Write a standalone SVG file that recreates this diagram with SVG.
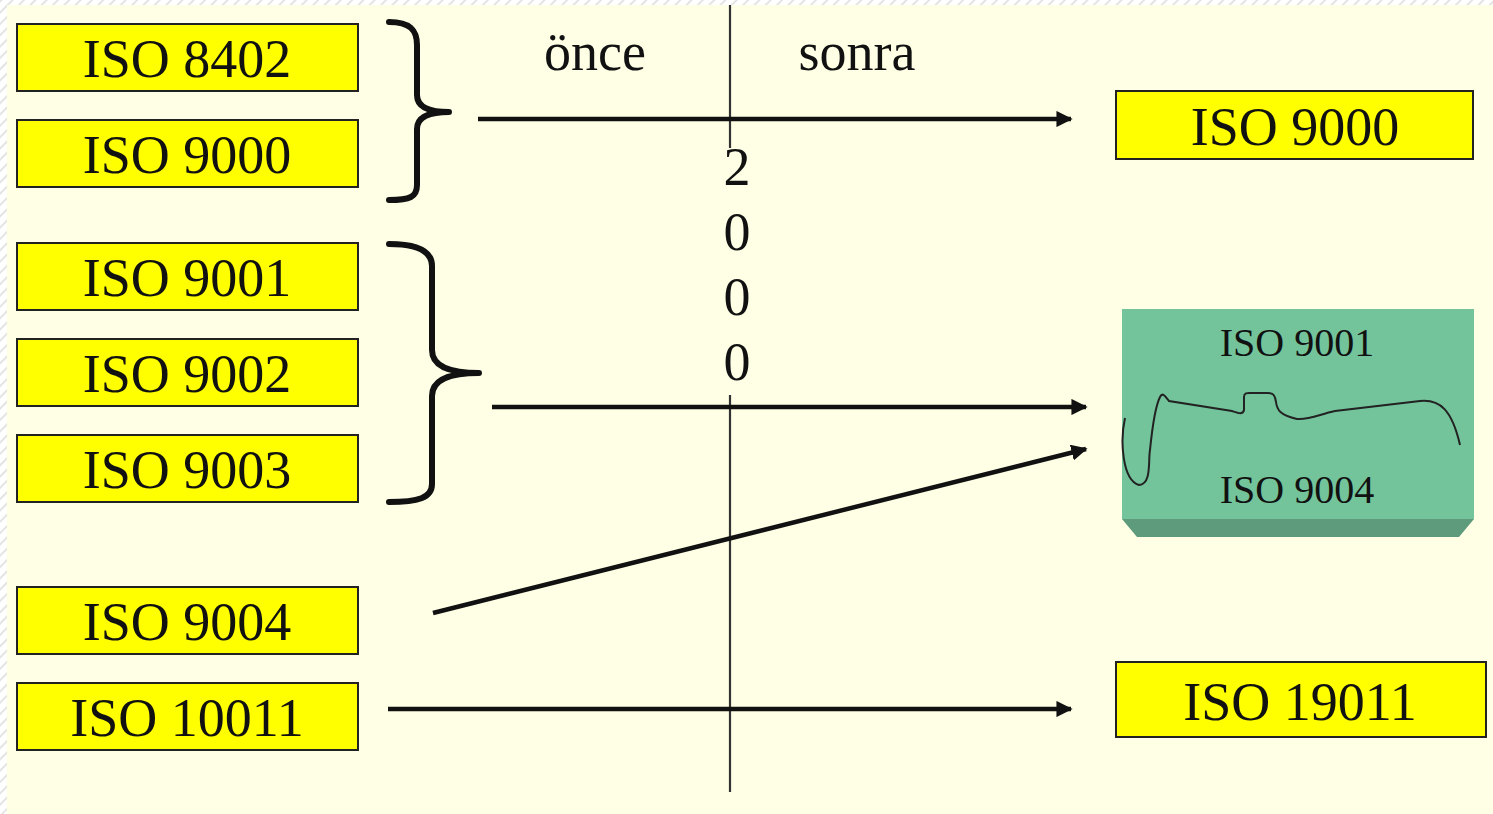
<svg xmlns="http://www.w3.org/2000/svg" width="1493" height="814" viewBox="0 0 1493 814">
  <style>
    .box { fill: #FFFF00; stroke: #222; stroke-width: 2; }
    .lbl { font-family: "Liberation Serif", "Times New Roman", serif; font-size: 54px; fill: #111; text-anchor: middle; }
    .small { font-size: 40px; }
    .conn { stroke: #111; stroke-width: 4.5; fill: none; }
    .axis { stroke: #333; stroke-width: 2.2; fill: none; }
    .brace { stroke: #111; stroke-width: 6; fill: none; stroke-linecap: round; stroke-linejoin: round; }
  </style>
  <defs>
    <pattern id="hatch" width="8" height="8" patternUnits="userSpaceOnUse" patternTransform="rotate(45)">
      <rect width="8" height="8" fill="#ffffff"/>
      <rect width="2" height="8" fill="#e4e4e4"/>
    </pattern>
    <marker id="arrow" viewBox="0 0 10 10" refX="9" refY="5" markerWidth="3.6" markerHeight="3.6" orient="auto" markerUnits="strokeWidth">
      <path d="M0,0 L10,5 L0,10 Z" fill="#111"/>
    </marker>
  </defs>

  <!-- slide frame and background -->
  <rect width="1493" height="814" fill="url(#hatch)"/>
  <rect x="7" y="5" width="1486" height="809" fill="#FFFFE6"/>

  <!-- time axis with year label -->
  <g id="axis">
    <line class="axis" x1="730" y1="5" x2="730" y2="148"/>
    <line class="axis" x1="730" y1="395" x2="730" y2="792"/>
    <text class="lbl" x="595" y="70">önce</text>
    <text class="lbl" x="857" y="70">sonra</text>
    <text class="lbl" x="737" y="185">2</text>
    <text class="lbl" x="737" y="250">0</text>
    <text class="lbl" x="737" y="315">0</text>
    <text class="lbl" x="737" y="380">0</text>
  </g>

  <!-- left column: earlier standards -->
  <g id="iso8402"><rect class="box" x="17" y="24" width="341" height="67"/><text class="lbl" x="187" y="77">ISO 8402</text></g>
  <g id="iso9000-old"><rect class="box" x="17" y="120" width="341" height="67"/><text class="lbl" x="187" y="173">ISO 9000</text></g>
  <g id="iso9001"><rect class="box" x="17" y="243" width="341" height="67"/><text class="lbl" x="187" y="296">ISO 9001</text></g>
  <g id="iso9002"><rect class="box" x="17" y="339" width="341" height="67"/><text class="lbl" x="187" y="392">ISO 9002</text></g>
  <g id="iso9003"><rect class="box" x="17" y="435" width="341" height="67"/><text class="lbl" x="187" y="488">ISO 9003</text></g>
  <g id="iso9004"><rect class="box" x="17" y="587" width="341" height="67"/><text class="lbl" x="187" y="640">ISO 9004</text></g>
  <g id="iso10011"><rect class="box" x="17" y="683" width="341" height="67"/><text class="lbl" x="187" y="736">ISO 10011</text></g>

  <!-- braces grouping the left boxes -->
  <g id="braces">
    <path class="brace" d="M389,22 C410,22 417,30 417,45 L417,95 C417,106 428,112 449,112 C428,112 417,118 417,129 L417,185 C417,197 410,200 389,200"/>
    <path class="brace" d="M389,244 C418,244 432,252 432,266 L432,350 C432,364 446,373 479,373 C446,373 432,382 432,396 L432,484 C432,498 418,502 389,502"/>
  </g>

  <!-- right column: later standards -->
  <g id="iso9000-new"><rect class="box" x="1116" y="91" width="357" height="68"/><text class="lbl" x="1295" y="145">ISO 9000</text></g>
  <g id="iso9001-9004">
    <rect x="1122" y="309" width="352" height="210" fill="#73C49B"/>
    <path d="M1122,519 L1474,519 L1459,537 L1137,537 Z" fill="#5E9B7C"/>
    <text class="lbl small" x="1297" y="356">ISO 9001</text>
    <text class="lbl small" x="1297" y="503">ISO 9004</text>
    <path d="M1125,418 C1120,440 1122,480 1139,485 C1152,484 1148,460 1150,450 C1152,430 1156,405 1160,397 C1163,391 1166,398 1169,401 L1232,411 C1238,413 1243,415 1244,410 L1244,397 C1244,392 1248,393 1252,393 L1268,393 C1274,393 1275,396 1276,402 C1277,410 1280,415 1297,419 C1310,420 1320,414 1335,411 L1420,401 C1440,399 1452,410 1460,445" fill="none" stroke="#222" stroke-width="2"/>
  </g>
  <g id="iso19011"><rect class="box" x="1116" y="662" width="370" height="75"/><text class="lbl" x="1300" y="720">ISO 19011</text></g>

  <!-- connectors -->
  <g id="connectors">
    <line class="conn" x1="478" y1="119" x2="1071" y2="119" marker-end="url(#arrow)"/>
    <line class="conn" x1="492" y1="407" x2="1086" y2="407" marker-end="url(#arrow)"/>
    <line class="conn" x1="433" y1="613" x2="1086" y2="449" marker-end="url(#arrow)"/>
    <line class="conn" x1="388" y1="709" x2="1071" y2="709" marker-end="url(#arrow)"/>
  </g>
</svg>
